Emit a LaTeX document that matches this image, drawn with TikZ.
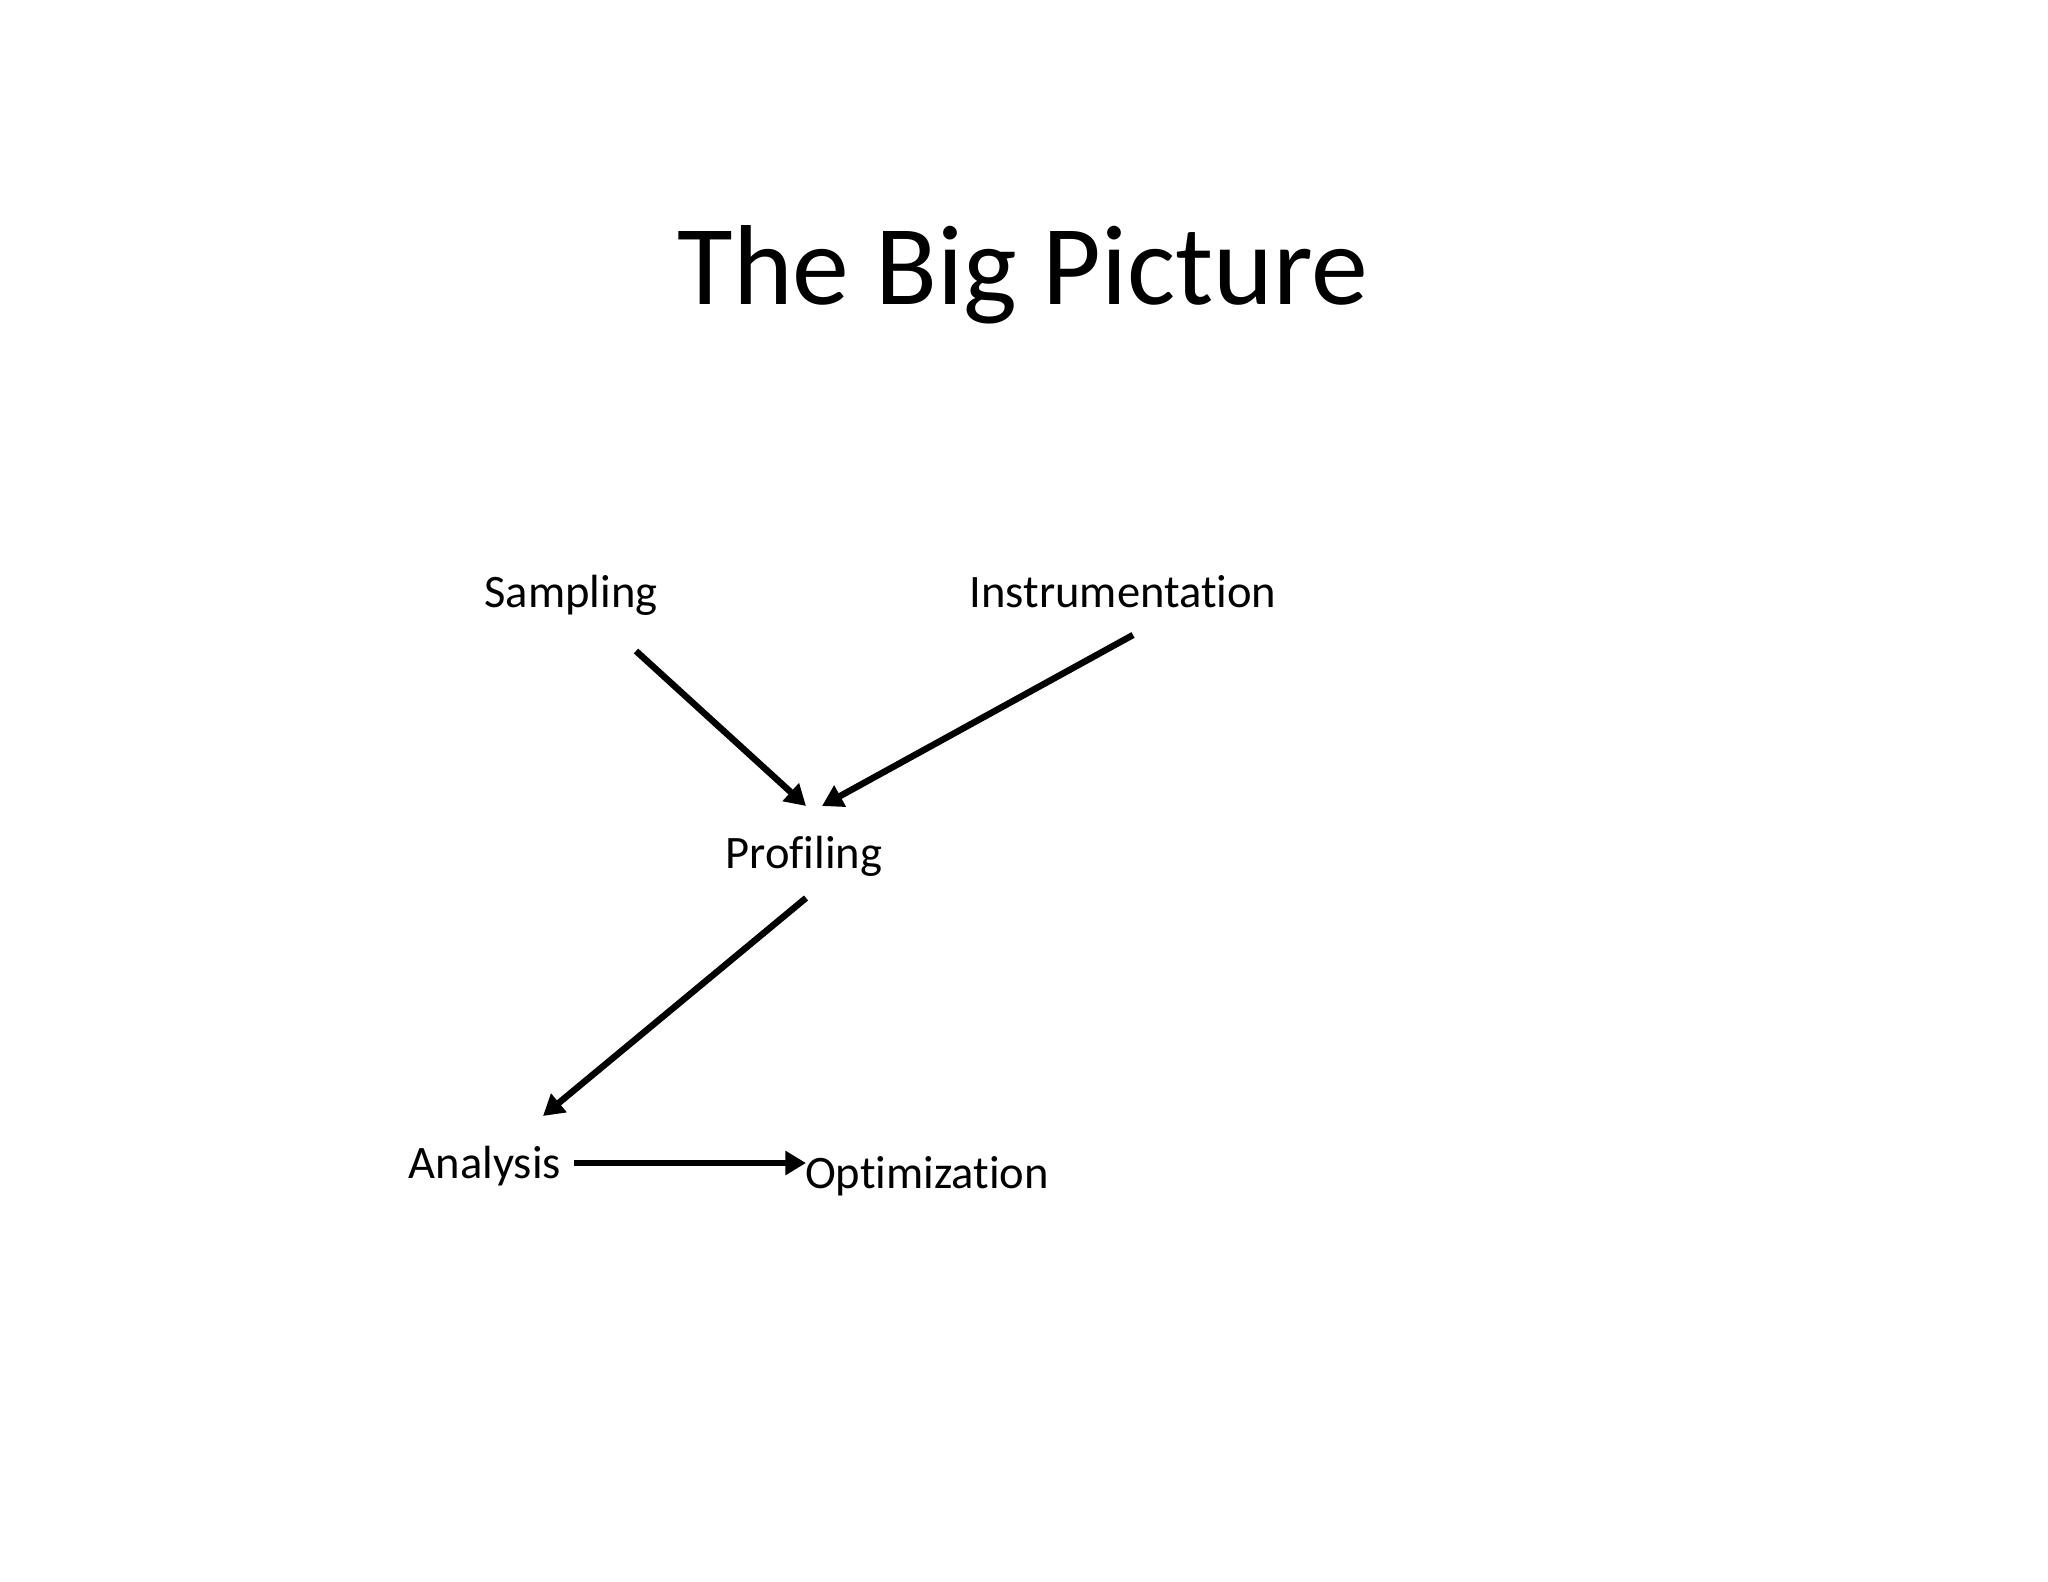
\documentclass[tikz,border=0pt]{standalone}
\usepackage{fontspec}
\setmainfont{Carlito}[Ligatures=NoCommon]
\usepackage{tikz}
\usetikzlibrary{arrows.meta}

\begin{document}
\begin{tikzpicture}[x=0.386719pt, y=-0.386719pt,
    label/.style={anchor=base, inner sep=0pt, font=\fontsize{18}{21}\selectfont},
    arr/.style={line width=2.5pt, -{Triangle[length=8pt,width=9pt]}}]
        \useasboundingbox (0,0) rectangle (2048,1582);
        \node [anchor=base, inner sep=0pt, font=\fontsize{44}{52}\selectfont] (Title) at (1023,305) {The Big Picture};
        \node [label] (Sampling) at (571,607) {Sampling};
        \node [label] (Instr) at (1123,607) {Instrumentation};
        \node [label] (Profiling) at (804,868) {Profiling};
        \node [label] (Analysis) at (485,1178) {Analysis};
        \node [label] (Optim) at (927,1188) {Optimization};
        \coordinate (SampOut) at (636,651);
        \coordinate (InstrOut) at (1133,635);
        \coordinate (ProfInA) at (806,806);
        \coordinate (ProfInB) at (822,806);
        \coordinate (ProfOut) at (806,898);
        \coordinate (AnaIn) at (543,1116);
        \coordinate (AnaOut) at (574,1163);
        \coordinate (OptIn) at (806,1163);
        \draw [arr] (SampOut) to (ProfInA);
        \draw [arr] (InstrOut) to (ProfInB);
        \draw [arr] (ProfOut) to (AnaIn);
        \draw [arr] (AnaOut) to (OptIn);
      \end{tikzpicture}
\end{document}
